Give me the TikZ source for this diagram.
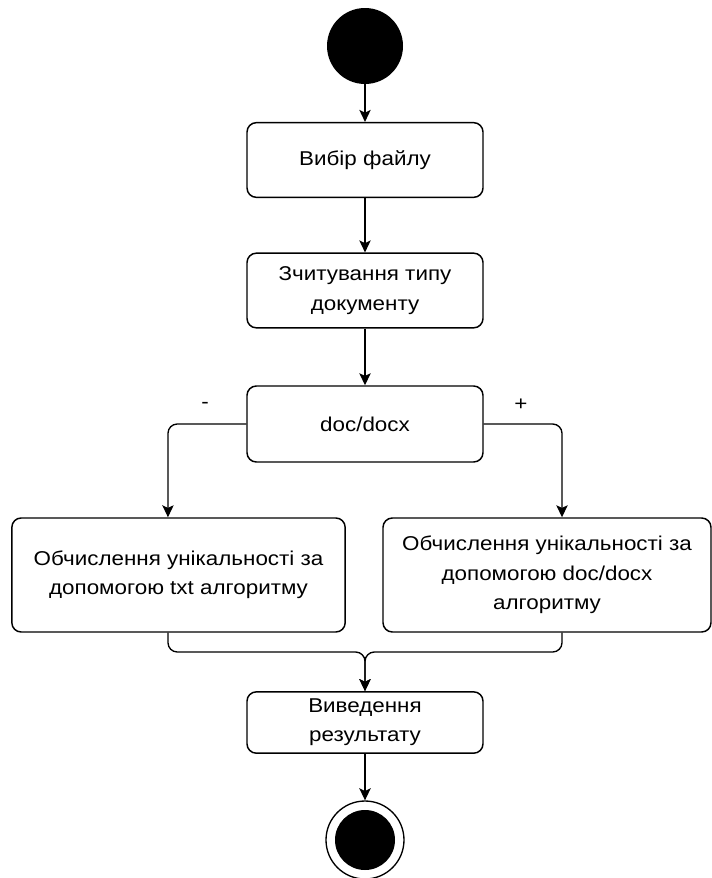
\documentclass[tikz,border=0pt]{standalone}
\usepackage{fontspec}
\setmainfont{Liberation Sans}[FakeStretch=1.12]
\usetikzlibrary{arrows.meta,positioning}

\begin{document}
\begin{tikzpicture}[x=0.75pt, y=-0.75pt,
  act/.style={draw, line width=1.1pt, rounded corners=7pt, align=center, inner sep=0pt, font=\fontsize{15}{22}\selectfont},
  flow/.style={line width=1pt, rounded corners=7pt, -{Stealth[length=9pt,width=8.5pt,inset=2pt]}}]
\useasboundingbox (0,0) rectangle (712,878);
\node[fill = black, shape = circle, minimum size = 57pt, inner sep = 0pt] (1) at (365,46) {};
\node[act, minimum width = 177pt, minimum height = 56pt] (2) at (365,160) {Вибір файлу};
\node[act, minimum width = 177pt, minimum height = 56pt] (3) at (365,290.5) {Зчитування типу\\документу};
\node[act, minimum width = 177pt, minimum height = 57pt] (4) at (365,424) {doc/docx};
\node[act, minimum width = 250pt, minimum height = 85.5pt] (5) at (178.5,575) {Обчислення унікальності за\\допомогою txt алгоритму};
\node[act, minimum width = 246pt, minimum height = 85.5pt] (6) at (547,575) {Обчислення унікальності за\\допомогою doc/docx\\алгоритму};
\node[act, minimum width = 177pt, minimum height = 46pt] (7) at (365,722.5) {Виведення\\результату};
\node[draw, line width = 1pt, shape = circle, minimum size = 58.5pt, inner sep = 0pt] (8) at (365,840) {};
\node[fill = black, shape = circle, minimum size = 45pt, inner sep = 0pt] (9) at (8.center) {};
\coordinate (j) at (365,652);

\draw[flow] (1) -- (2);
\draw[flow] (2) -- (3);
\draw[flow] (3) -- (4);
\draw[flow] (4.west) -| ([xshift=-7.9pt]5.north);
\draw[flow] (4.east) -| ([xshift=11.25pt]6.north);
\draw[flow] ([xshift=-7.9pt]5.south) |- (j) -- (7.north);
\draw[flow] ([xshift=11.25pt]6.south) |- (j) -- (7.north);
\draw[flow] (7) -- (8);

\begin{scope}[nodes = {font = \fontsize{15}{22}\selectfont}]
\node (10) at (205,405) {-};
\node (11) at (521,405) {+};
\end{scope}
\end{tikzpicture}
\end{document}
